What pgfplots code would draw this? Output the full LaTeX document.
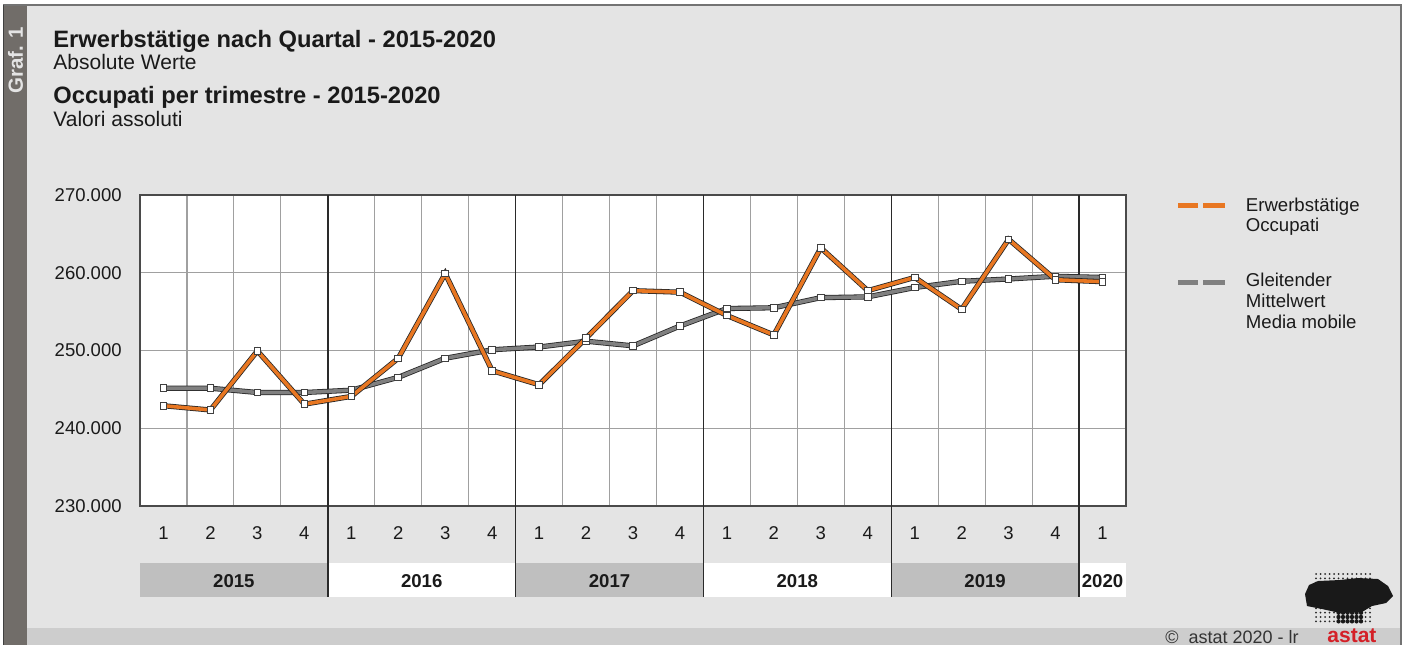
\documentclass[border=0pt]{standalone}
\usepackage{fontspec}
\setmainfont{Liberation Sans}
\usepackage{pgfplots}
\pgfplotsset{compat=1.18}
\usepackage{pgfplotstable}

\definecolor{bgc}{HTML}{E4E4E4}
\definecolor{barc}{HTML}{716D69}
\definecolor{stripc}{HTML}{CDCDCD}
\definecolor{bandc}{HTML}{BFBFBF}
\definecolor{gridc}{HTML}{A0A0A0}
\definecolor{framec}{HTML}{4A4A4A}
\definecolor{sepc}{HTML}{2A2A2A}
\definecolor{orangec}{HTML}{E87722}
\definecolor{grayc}{HTML}{808080}
\definecolor{outc}{HTML}{262626}
\definecolor{txtc}{HTML}{1A1A1A}
\definecolor{astatred}{HTML}{D42027}

% q = quarter index 0..20 (2015Q1 .. 2020Q1)
\pgfplotstableread{
q occ mm
0  242900 245150
1  242350 245150
2  249950 244600
3  243100 244600
4  244100 244900
5  249000 246550
6  259900 249000
7  247400 250100
8  245600 250450
9  251600 251200
10 257700 250600
11 257500 253150
12 254500 255400
13 252000 255500
14 263200 256800
15 257700 256900
16 259400 258100
17 255300 258900
18 264300 259200
19 259100 259550
20 258850 259400
}\datatable

\begin{document}
\begin{tikzpicture}[x=0.5pt,y=-0.5pt]
\useasboundingbox (0,0) rectangle (1406,645);
\fill[white] (0,0) rectangle (1406,645);
\fill[bgc] (3,5) rectangle (1401,645);
\fill[stripc] (27,628) rectangle (1401,645);
\fill[barc] (3,5) rectangle (27,645);
\draw[black!55, line width=0.75pt] (3,5) -- (1401,5) -- (1401,645);
\draw[black!75, line width=0.6pt] (3.6,5) -- (3.6,645);
\node[rotate=90, text=bgc, font=\bfseries\fontsize{10.25}{12}\selectfont] at (15.5,60) {Graf. 1};

% titles
\node[anchor=base west, text=txtc, font=\bfseries\fontsize{11.85}{14}\selectfont, inner sep=0pt] at (53,47) {Erwerbstätige nach Quartal - 2015-2020};
\node[anchor=base west, text=txtc, font=\fontsize{10.5}{12}\selectfont, inner sep=0pt] at (53,69) {Absolute Werte};
\node[anchor=base west, text=txtc, font=\bfseries\fontsize{11.85}{14}\selectfont, inner sep=0pt] at (53,103) {Occupati per trimestre - 2015-2020};
\node[anchor=base west, text=txtc, font=\fontsize{10.5}{12}\selectfont, inner sep=0pt] at (53,126.5) {Valori assoluti};

\coordinate (axNW) at (140,195);

\begin{axis}[
  at={(axNW)}, anchor=north west,
  scale only axis, width=493pt, height=155.5pt,
  xmin=-0.5, xmax=20.5, ymin=230000, ymax=270000,
  clip=false,
  axis background/.style={fill=white},
  axis line style={draw=framec, line width=0.6pt},
  xtick={0,...,20},
  xticklabels={1,2,3,4,1,2,3,4,1,2,3,4,1,2,3,4,1,2,3,4,1},
  minor xtick={0.5,1.5,...,19.5},
  ytick={230000,240000,250000,260000,270000},
  yticklabels={230.000,240.000,250.000,260.000,270.000},
  scaled y ticks=false,
  major tick length=0pt, minor tick length=0pt,
  xmajorgrids=false, xminorgrids=true, ymajorgrids=true,
  major grid style={draw=gridc, line width=0.55pt},
  minor grid style={draw=gridc, line width=0.55pt},
  tick label style={text=txtc, font=\fontsize{9.25}{11}\selectfont},
  xticklabel style={anchor=center, yshift=-13.5pt, inner sep=0pt},
  yticklabel style={anchor=east, xshift=-9pt, inner sep=0pt},
  /pgf/number format/assume math mode=true,
]
% year bands
\fill[bandc] ([yshift=-28.6pt]axis cs:-0.5,230000) rectangle ([yshift=-45.4pt]axis cs:3.5,230000);
\fill[white] ([yshift=-28.6pt]axis cs:3.5,230000) rectangle ([yshift=-45.4pt]axis cs:7.5,230000);
\fill[bandc] ([yshift=-28.6pt]axis cs:7.5,230000) rectangle ([yshift=-45.4pt]axis cs:11.5,230000);
\fill[white] ([yshift=-28.6pt]axis cs:11.5,230000) rectangle ([yshift=-45.4pt]axis cs:15.5,230000);
\fill[bandc] ([yshift=-28.6pt]axis cs:15.5,230000) rectangle ([yshift=-45.4pt]axis cs:19.5,230000);
\fill[white] ([yshift=-28.6pt]axis cs:19.5,230000) rectangle ([yshift=-45.4pt]axis cs:20.5,230000);
% year separators
\draw[sepc, line width=0.7pt] (axis cs:3.5,270000) -- ([yshift=-45.4pt]axis cs:3.5,230000);
\draw[sepc, line width=0.7pt] (axis cs:7.5,270000) -- ([yshift=-45.4pt]axis cs:7.5,230000);
\draw[sepc, line width=0.7pt] (axis cs:11.5,270000) -- ([yshift=-45.4pt]axis cs:11.5,230000);
\draw[sepc, line width=0.7pt] (axis cs:15.5,270000) -- ([yshift=-45.4pt]axis cs:15.5,230000);
\draw[sepc, line width=0.7pt] (axis cs:19.5,270000) -- ([yshift=-45.4pt]axis cs:19.5,230000);
% year labels
\node[text=txtc, font=\bfseries\fontsize{9.3}{11}\selectfont, inner sep=0pt] at ([yshift=-37.3pt]axis cs:1.5,230000) {2015};
\node[text=txtc, font=\bfseries\fontsize{9.3}{11}\selectfont, inner sep=0pt] at ([yshift=-37.3pt]axis cs:5.5,230000) {2016};
\node[text=txtc, font=\bfseries\fontsize{9.3}{11}\selectfont, inner sep=0pt] at ([yshift=-37.3pt]axis cs:9.5,230000) {2017};
\node[text=txtc, font=\bfseries\fontsize{9.3}{11}\selectfont, inner sep=0pt] at ([yshift=-37.3pt]axis cs:13.5,230000) {2018};
\node[text=txtc, font=\bfseries\fontsize{9.3}{11}\selectfont, inner sep=0pt] at ([yshift=-37.3pt]axis cs:17.5,230000) {2019};
\node[text=txtc, font=\bfseries\fontsize{9.3}{11}\selectfont, inner sep=0pt] at ([yshift=-37.3pt]axis cs:20,230000) {2020};
% moving average (gray)
\addplot[draw=outc, line width=2.6pt, forget plot] table[x=q, y=mm] {\datatable};
\addplot[draw=grayc, line width=1.8pt, mark=square*, mark size=1.65pt,
  mark options={solid, fill=white, draw=black!75, line width=0.45pt}] table[x=q, y=mm] {\datatable};
% employed (orange)
\addplot[draw=outc, line width=2.6pt, forget plot] table[x=q, y=occ] {\datatable};
\addplot[draw=orangec, line width=1.8pt, mark=square*, mark size=1.65pt,
  mark options={solid, fill=white, draw=black!75, line width=0.45pt}] table[x=q, y=occ] {\datatable};
\end{axis}

% legend
\draw[orangec, line width=2.75pt] (1178,205.5) -- (1198,205.5);
\draw[orangec, line width=2.75pt] (1203,205.5) -- (1225,205.5);
\draw[grayc, line width=2.75pt] (1178,282.3) -- (1198,282.3);
\draw[grayc, line width=2.75pt] (1203,282.3) -- (1225,282.3);
\begin{scope}[every node/.style={anchor=base west, text=txtc, font=\fontsize{9.3}{11}\selectfont, inner sep=0pt}]
\node at (1245.5,211) {Erwerbstätige};
\node at (1245.5,231.5) {Occupati};
\node at (1245.5,286.5) {Gleitender};
\node at (1245.5,307.5) {Mittelwert};
\node at (1245.5,328.3) {Media mobile};
\end{scope}

% logo
\foreach \i in {0,...,12}{
  \foreach \j in {0,...,11}{
    \fill[black!85] (1316+\i*4.5, 574+\j*4.3) circle[radius=0.5pt];
  }
}
\fill[black!90] (1305,594) -- (1309,585) -- (1318,581) -- (1340,580) -- (1358,578) -- (1378,579) -- (1388,586) -- (1393,596) -- (1386,603) -- (1372,606) -- (1362,612) -- (1340,613) -- (1322,609) -- (1307,606) -- cycle;
\foreach \i in {5,...,10}{
  \foreach \j in {6,...,11}{
    \fill[black!90] (1316+\i*4.5, 574+\j*4.3) circle[radius=1.1pt];
  }
}
\node[anchor=base west, text=black!80, font=\fontsize{9}{10}\selectfont, inner sep=0pt] at (1165,643) {©\ \ astat 2020 - lr};
\node[anchor=base west, text=astatred, font=\bfseries\fontsize{10.5}{12}\selectfont, inner sep=0pt] at (1327,642) {astat};
\end{tikzpicture}
\end{document}
